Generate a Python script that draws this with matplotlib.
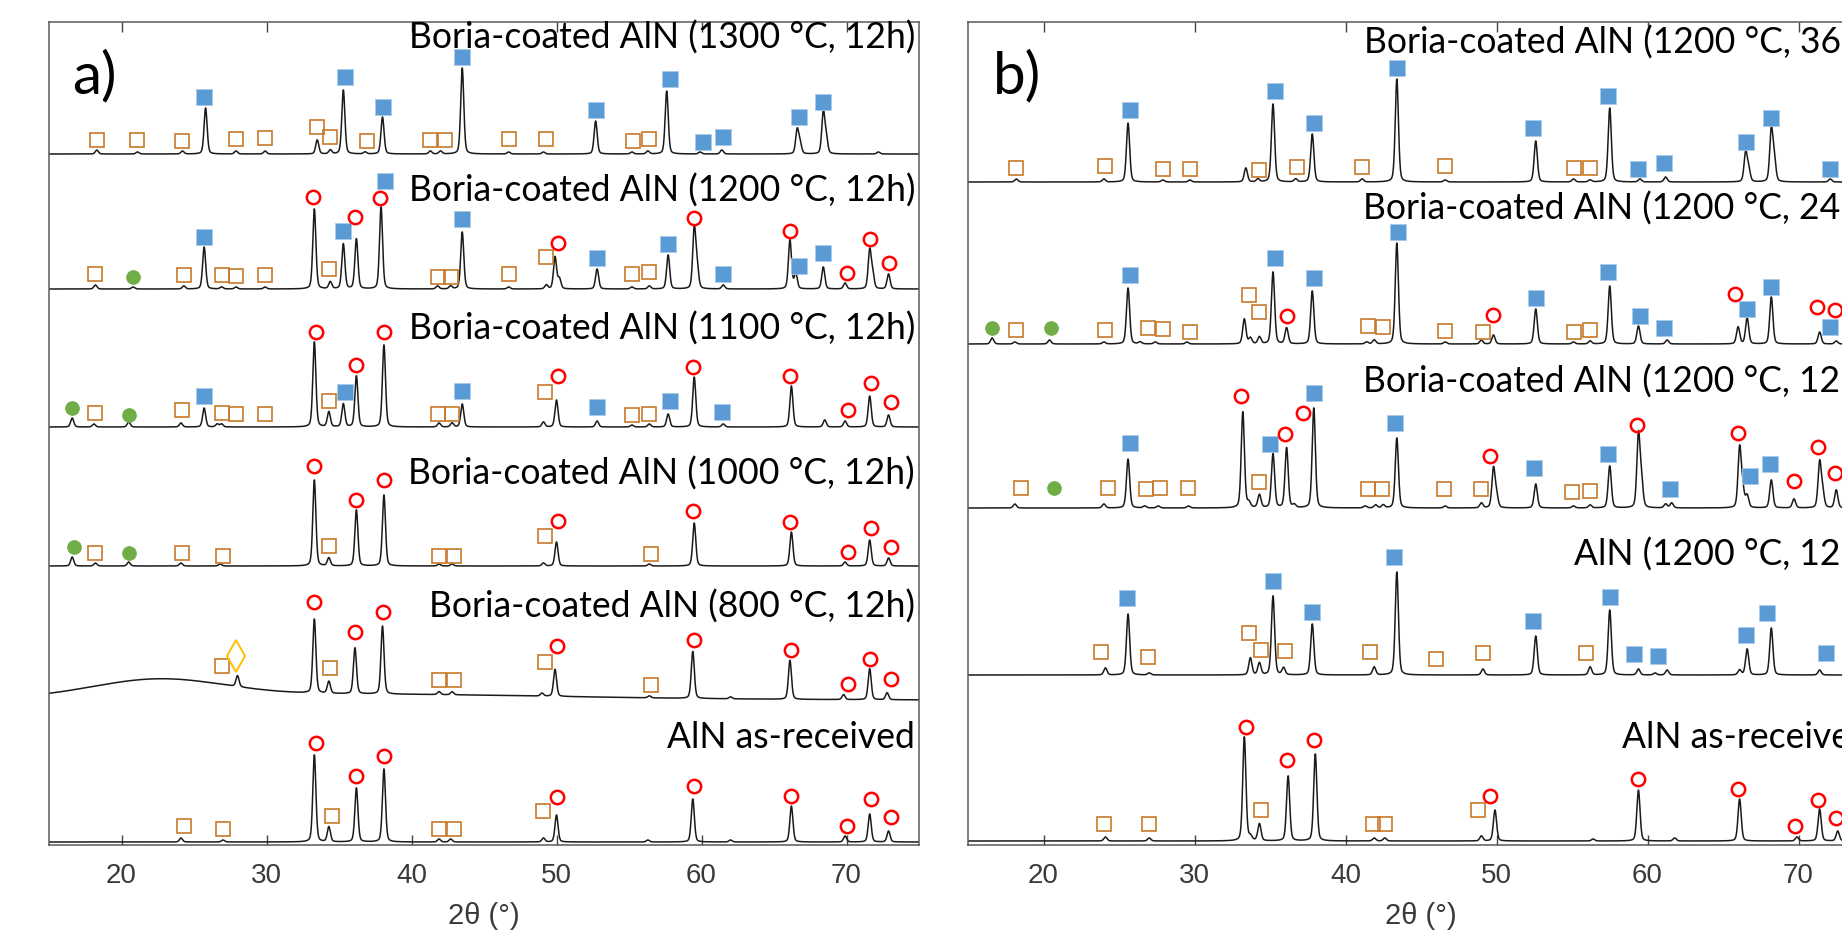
import numpy as np
import matplotlib
matplotlib.use("Agg")
import matplotlib.pyplot as plt

# ---------------- data (2theta in degrees, intensity in plot units) ----------------
tick_values = [20, 30, 40, 50, 60, 70]
x_label = "2θ (°)"

# ---- panel a ----
a_labels = ["Boria-coated AlN (1300 °C, 12h)", "Boria-coated AlN (1200 °C, 12h)",
            "Boria-coated AlN (1100 °C, 12h)", "Boria-coated AlN (1000 °C, 12h)",
            "Boria-coated AlN (800 °C, 12h)", "AlN as-received"]
a_offsets = [691, 556, 418, 279, 145, 3]
a_label_y = [796, 643, 505, 360, 227, 97]

a1300_peaks = [(18.3, 4), (21.1, 2), (24.2, 3), (25.8, 46), (27.9, 3), (29.9, 3), (33.5, 14), (34.4, 4),
               (35.3, 64), (36.8, 2), (38.0, 37), (41.3, 3), (42.0, 3), (43.5, 86), (46.7, 2), (49.1, 2),
               (52.7, 33), (55.2, 2), (56.3, 3), (57.6, 63), (59.9, 2), (61.4, 4), (66.6, 24), (66.8, 10),
               (68.4, 41), (68.6, 15), (72.2, 2)]
a1300_blue = [(25.7, 57), (35.4, 77), (38.0, 47), (43.5, 97), (52.7, 44), (57.8, 75), (60.1, 12),
              (61.5, 17), (66.7, 37), (68.4, 52)]
a1300_orange = [(18.3, 14), (21.1, 14), (24.2, 13), (27.9, 15), (29.9, 16), (33.5, 27), (34.4, 17),
                (36.9, 13), (41.3, 14), (42.3, 14), (46.7, 15), (49.3, 15), (55.3, 13), (56.4, 15)]

a1200_peaks = [(18.2, 4), (20.8, 2), (24.3, 3), (25.7, 42), (26.9, 2), (27.9, 2), (29.9, 2), (33.3, 80),
               (34.4, 7), (35.3, 45), (36.2, 50), (37.9, 82), (41.8, 3), (42.7, 3), (43.5, 57), (46.7, 2),
               (49.3, 4), (49.9, 32), (50.2, 10), (52.8, 20), (55.2, 2), (56.4, 3), (57.7, 34), (59.5, 60),
               (59.7, 20), (61.5, 4), (66.1, 49), (66.5, 15), (68.4, 22), (69.9, 6), (71.6, 38), (71.8, 14),
               (72.9, 15)]
a1200_orange = [(18.2, 15), (24.3, 14), (26.9, 14), (27.9, 13), (29.9, 14), (34.3, 20), (41.8, 12),
                (42.7, 12), (46.7, 15), (49.3, 32), (55.2, 15), (56.4, 17)]
a1200_green = [(20.8, 12)]
a1200_blue = [(25.7, 52), (35.3, 58), (38.2, 108), (43.5, 70), (52.8, 31), (57.7, 45), (61.5, 15),
              (66.7, 23), (68.4, 36)]
a1200_red = [(33.2, 92), (36.1, 72), (37.8, 91), (50.1, 46), (59.5, 71), (66.1, 58), (70.0, 16),
             (71.6, 50), (72.9, 26)]

a1100_peaks = [(16.6, 9), (18.1, 3), (20.5, 5), (24.1, 4), (25.7, 19), (26.6, 3), (26.9, 3), (33.3, 85),
               (34.3, 15), (35.3, 23), (36.2, 51), (38.1, 82), (41.9, 4), (42.8, 4), (43.5, 23), (49.1, 5),
               (50.0, 27), (52.8, 6), (55.2, 2), (56.4, 3), (57.7, 13), (59.5, 50), (61.5, 3), (66.2, 41),
               (68.5, 7), (69.9, 6), (71.6, 31), (72.9, 12)]
a1100_green = [(16.6, 19), (20.5, 12)]
a1100_orange = [(18.2, 14), (24.2, 17), (26.9, 14), (27.9, 13), (29.9, 13), (34.3, 26), (41.8, 13),
                (42.8, 13), (49.2, 35), (55.2, 12), (56.4, 13)]
a1100_blue = [(25.7, 31), (35.4, 35), (43.5, 36), (52.8, 20), (57.8, 26), (61.4, 15)]
a1100_red = [(33.4, 95), (36.2, 62), (38.1, 95), (50.1, 51), (59.4, 60), (66.1, 51), (70.1, 17),
             (71.7, 44), (73.1, 25)]

a1000_peaks = [(16.6, 9), (18.2, 3), (20.5, 4), (24.1, 3), (26.8, 2), (33.3, 86), (34.3, 8), (36.2, 56),
               (38.1, 71), (41.9, 2), (42.8, 2), (49.1, 3), (50.0, 24), (56.4, 2), (59.5, 43), (66.2, 34),
               (69.9, 4), (71.6, 26), (72.9, 8)]
a1000_green = [(16.7, 19), (20.5, 13)]
a1000_orange = [(18.2, 13), (24.2, 13), (27.0, 10), (34.3, 20), (41.9, 10), (42.9, 10), (49.2, 30),
                (56.5, 12)]
a1000_red = [(33.3, 100), (36.2, 66), (38.1, 86), (50.1, 45), (59.4, 55), (66.1, 44), (70.1, 14),
             (71.7, 38), (73.1, 19)]

a800_background = [(22.5, 17, 4.5), (35.0, 6, 15.0)]
a800_peaks = [(28.0, 11), (33.3, 74), (34.3, 12), (36.1, 46), (38.0, 68), (41.9, 3), (42.8, 3), (49.0, 3),
              (49.9, 27), (56.4, 2), (59.4, 47), (62.0, 2), (66.1, 39), (69.8, 5), (71.6, 31), (72.8, 7)]
a800_diamond = [(27.9, 30)]
a800_orange = [(26.9, 18), (34.4, 25), (41.9, 15), (42.9, 15), (49.2, 34), (56.5, 13)]
a800_red = [(33.3, 91), (36.1, 62), (38.0, 82), (50.0, 50), (59.5, 58), (66.2, 49), (70.1, 16),
            (71.6, 41), (73.1, 21)]

aar_peaks = [(24.1, 4), (27.0, 2), (33.3, 87), (34.3, 15), (36.2, 54), (38.1, 73), (41.9, 3), (42.7, 3),
             (49.1, 4), (50.0, 27), (56.3, 2), (59.4, 43), (62.0, 2), (66.2, 36), (69.9, 6), (71.6, 28),
             (72.9, 11)]
aar_orange = [(24.3, 16), (27.0, 13), (34.5, 26), (41.9, 13), (42.9, 13), (49.1, 31)]
aar_red = [(33.4, 99), (36.2, 66), (38.1, 86), (50.0, 45), (59.5, 56), (66.2, 46), (70.0, 16),
           (71.7, 43), (73.1, 25)]

# ---- panel b ----
b_labels = ["Boria-coated AlN (1200 °C, 36h)", "Boria-coated AlN (1200 °C, 24h)",
            "Boria-coated AlN (1200 °C, 12h)", "AlN (1200 °C, 12h)", "AlN as-received"]
b_offsets = [663, 501, 337, 170, 4]
b_label_y = [791, 625, 452, 279, 97]

b36_peaks = [(18.2, 3), (24.0, 3), (25.6, 59), (27.9, 2), (29.7, 2), (33.4, 14), (34.2, 3), (35.2, 78),
             (36.7, 3), (37.8, 48), (41.1, 3), (43.4, 103), (46.6, 2), (52.6, 41), (55.1, 3), (56.2, 2),
             (57.5, 74), (59.5, 3), (61.2, 5), (66.5, 29), (66.7, 12), (68.2, 52), (68.4, 20), (72.1, 3)]
b36_orange = [(18.2, 14), (24.1, 16), (27.9, 13), (29.7, 13), (34.3, 12), (36.8, 15), (41.1, 15),
              (46.6, 16), (55.1, 14), (56.2, 14)]
b36_blue = [(25.7, 72), (35.3, 91), (37.9, 59), (43.4, 114), (52.4, 54), (57.4, 86), (59.4, 13),
            (61.1, 19), (66.5, 40), (68.2, 64), (72.1, 13)]

b24_peaks = [(16.6, 6), (18.1, 2), (20.4, 4), (24.0, 2), (25.6, 56), (26.4, 2), (27.4, 2), (29.5, 2),
             (33.3, 25), (33.7, 6), (34.3, 7), (35.2, 72), (36.1, 16), (37.8, 53), (41.4, 2), (41.9, 4),
             (43.4, 101), (46.6, 2), (49.0, 4), (49.8, 9), (52.6, 35), (55.1, 2), (56.2, 3), (57.5, 58),
             (59.4, 18), (61.3, 4), (66.0, 17), (66.6, 26), (68.2, 47), (71.4, 12), (72.5, 3)]
b24_green = [(16.6, 16), (20.5, 16)]
b24_orange = [(18.2, 14), (24.1, 14), (26.9, 16), (27.9, 15), (29.7, 12), (33.6, 49), (34.3, 32),
              (41.5, 18), (42.5, 17), (46.6, 13), (49.1, 12), (55.1, 12), (56.2, 14)]
b24_blue = [(25.7, 69), (35.3, 86), (37.9, 66), (43.5, 112), (52.6, 46), (57.4, 72), (59.5, 28),
            (61.1, 16), (66.6, 35), (68.2, 57), (72.1, 17)]
b24_red = [(36.1, 28), (49.8, 29), (65.8, 50), (71.2, 37), (72.4, 34)]

b12_peaks = [(18.1, 4), (24.0, 4), (25.6, 49), (26.7, 2), (27.6, 2), (29.6, 2), (33.2, 96), (33.6, 5),
             (34.3, 13), (35.2, 54), (36.1, 60), (36.6, 3), (37.9, 100), (41.3, 2), (42.0, 3), (42.5, 3),
             (43.4, 70), (46.6, 2), (49.0, 5), (49.8, 39), (50.0, 12), (52.6, 24), (55.1, 2), (56.2, 3),
             (57.5, 42), (59.4, 72), (59.6, 25), (61.2, 4), (61.6, 5), (66.1, 59), (66.3, 18), (66.6, 12),
             (68.2, 28), (69.7, 9), (71.4, 45), (71.6, 15), (72.5, 18)]
b12_orange = [(18.5, 20), (24.3, 20), (26.8, 19), (27.7, 20), (29.6, 20), (34.3, 26), (41.5, 19),
              (42.4, 19), (46.5, 19), (49.0, 19), (55.0, 16), (56.2, 17)]
b12_green = [(20.7, 20)]
b12_blue = [(25.7, 65), (35.0, 64), (37.9, 115), (43.3, 85), (52.5, 40), (57.4, 54), (61.5, 19),
            (66.8, 32), (68.1, 44)]
b12_red = [(33.1, 112), (36.0, 74), (37.2, 95), (49.6, 52), (59.3, 83), (66.0, 75), (69.7, 27),
           (71.3, 61), (72.4, 35)]

baln_peaks = [(24.1, 7), (25.6, 61), (27.0, 2), (33.7, 17), (34.3, 12), (35.2, 79), (35.9, 7), (37.8, 51),
              (41.9, 8), (43.4, 103), (49.1, 6), (52.6, 39), (56.2, 8), (57.5, 65), (59.4, 6), (60.5, 2),
              (61.3, 5), (66.1, 5), (66.6, 26), (68.2, 47), (71.4, 5)]
baln_orange = [(23.8, 23), (26.9, 18), (33.6, 42), (34.4, 25), (36.0, 24), (41.6, 23), (46.0, 16),
               (49.1, 22), (55.9, 22)]
baln_blue = [(25.5, 77), (35.2, 94), (37.8, 63), (43.2, 118), (52.4, 54), (57.5, 78), (59.1, 21),
             (60.7, 19), (66.5, 40), (67.9, 62), (71.8, 22)]

bar_peaks = [(24.1, 4), (27.0, 3), (33.3, 104), (33.7, 4), (34.3, 17), (36.2, 65), (38.0, 87), (41.9, 3),
             (42.6, 3), (49.0, 5), (49.9, 31), (56.4, 2), (59.4, 51), (61.8, 3), (66.1, 42), (69.9, 4),
             (71.4, 32), (72.6, 10)]
bar_orange = [(24.0, 17), (27.0, 17), (34.4, 31), (41.8, 17), (42.6, 17), (48.8, 31)]
bar_red = [(33.4, 114), (36.1, 81), (37.9, 101), (49.6, 45), (59.4, 62), (66.0, 52), (69.8, 15),
           (71.3, 41), (72.5, 23)]

# ---------------- styles ----------------
W, H = 1842, 950
FWHM = 0.25
STYLE = {
    "blue":    dict(marker="s", ms=11, mfc="#5B9BD5", mec="#A9CBEA", mew=0.6),
    "orange":  dict(marker="s", ms=10.2, mfc="none", mec="#C8792A", mew=1.2),
    "red":     dict(marker="o", ms=9.6, mfc="none", mec="#FF0000", mew=1.8),
    "green":   dict(marker="o", ms=10, mfc="#70AD47", mec="#70AD47", mew=0.5),
    "diamond": dict(marker="d", ms=16, mfc="none", mec="#FFC000", mew=1.4),
}
LABEL_FONT = "Lato"
TICK_FONT = "Liberation Sans"

theta = np.linspace(15, 75, 8001)


def profile(x, peaks):
    y = np.zeros_like(x, dtype=float)
    for pos, h in peaks:
        g = np.exp(-4 * np.log(2) * ((x - pos) / FWHM) ** 2)
        lo = 1.0 / (1 + 4 * ((x - pos) / FWHM) ** 2)
        y += h * (0.7 * g + 0.3 * lo)
    return y


def background(x, bg):
    y = np.zeros_like(np.asarray(x, dtype=float))
    for c, h, s in bg:
        y += h * np.exp(-((np.asarray(x) - c) ** 2) / (2 * s * s))
    return y


def draw_pattern(ax, offset, peaks, markers, bg=()):
    base = offset + background(theta, bg)
    ax.plot(theta, base + profile(theta, peaks), color="#1a1a1a", lw=1.1, zorder=2)
    for kind, pts in markers:
        xs = np.array([p[0] for p in pts])
        ys = np.array([p[1] for p in pts]) + offset + background(xs, bg)
        ax.plot(xs, ys, ls="none", zorder=3, clip_on=False, **STYLE[kind])


fig = plt.figure(figsize=(W / 100, H / 100), dpi=100)


def px_axes(x0, x1, y_top, y_bot):
    return fig.add_axes([x0 / W, 1 - y_bot / H, (x1 - x0) / W, (y_bot - y_top) / H])


axA = px_axes(49, 919, 22, 845)
axB = px_axes(968, 1874, 22, 845)

a_sets = [
    (a1300_peaks, [("orange", a1300_orange), ("blue", a1300_blue)], ()),
    (a1200_peaks, [("orange", a1200_orange), ("green", a1200_green), ("blue", a1200_blue),
                   ("red", a1200_red)], ()),
    (a1100_peaks, [("orange", a1100_orange), ("green", a1100_green), ("blue", a1100_blue),
                   ("red", a1100_red)], ()),
    (a1000_peaks, [("orange", a1000_orange), ("green", a1000_green), ("red", a1000_red)], ()),
    (a800_peaks, [("orange", a800_orange), ("diamond", a800_diamond), ("red", a800_red)], a800_background),
    (aar_peaks, [("orange", aar_orange), ("red", aar_red)], ()),
]
b_sets = [
    (b36_peaks, [("orange", b36_orange), ("blue", b36_blue)], ()),
    (b24_peaks, [("orange", b24_orange), ("green", b24_green), ("blue", b24_blue), ("red", b24_red)], ()),
    (b12_peaks, [("orange", b12_orange), ("green", b12_green), ("blue", b12_blue), ("red", b12_red)], ()),
    (baln_peaks, [("orange", baln_orange), ("blue", baln_blue)], ()),
    (bar_peaks, [("orange", bar_orange), ("red", bar_red)], ()),
]

for ax, sets, offs, labels, ly, tag in [(axA, a_sets, a_offsets, a_labels, a_label_y, "a)"),
                                        (axB, b_sets, b_offsets, b_labels, b_label_y, "b)")]:
    for (peaks, markers, bg), off in zip(sets, offs):
        draw_pattern(ax, off, peaks, markers, bg)
    for lab, y in zip(labels, ly):
        ax.text(0.9955, y, lab, transform=ax.get_yaxis_transform(), ha="right", va="baseline",
                fontsize=25.6, family=LABEL_FONT, color="black", zorder=4)
    ax.text(0.027, 752, tag, transform=ax.get_yaxis_transform(), ha="left", va="baseline",
            fontsize=42, family=LABEL_FONT, color="black")
    ax.set_xlim(15, 75)
    ax.set_ylim(0, 823)
    ax.set_yticks([])
    ax.set_xticks(tick_values)
    ax.set_xticklabels([str(t) for t in tick_values], family=TICK_FONT, fontsize=20, color="#3a3a3a")
    ax.tick_params(axis="x", direction="in", top=True, bottom=True, length=7, width=1.0,
                   color="#444444", pad=13)
    for sp in ax.spines.values():
        sp.set_color("#5a5a5a")
        sp.set_linewidth(1.1)
    ax.set_xlabel(x_label, family=TICK_FONT, fontsize=21, color="#3a3a3a", labelpad=9)

fig.savefig("out.png", dpi=100)
